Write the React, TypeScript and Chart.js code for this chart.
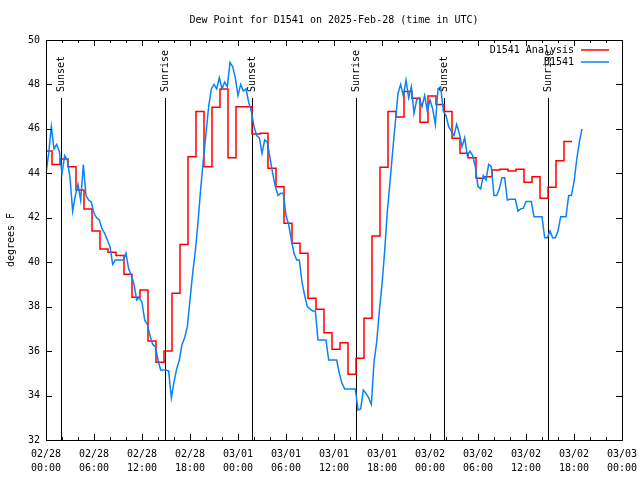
import React, { useEffect, useRef } from "react";
import { Chart, registerables } from "chart.js";

Chart.register(...registerables);

const TITLE = "Dew Point for D1541 on 2025-Feb-28 (time in UTC)";
const Y_TITLE = "degrees F";
const ANALYSIS_LABEL = "D1541 Analysis";
const OBS_LABEL = "D1541";

const X_DATES = ["02/28", "02/28", "02/28", "02/28", "03/01", "03/01", "03/01", "03/01", "03/02", "03/02", "03/02", "03/02", "03/03"];
const X_TIMES = ["00:00", "06:00", "12:00", "18:00", "00:00", "06:00", "12:00", "18:00", "00:00", "06:00", "12:00", "18:00", "00:00"];
const X_MIN_H = 0;
const X_MAX_H = 72;
const X_STEP_H = 6;
const X_MINOR_H = 2;
const Y_MIN = 32;
const Y_MAX = 50;
const Y_STEP = 2;

// hourly analysis values (each holds for one hour starting at ANALYSIS_START_H + i)
const ANALYSIS_START_H = -0.25;
const ANALYSIS_STEP_H = 1;
const analysisValues = [
  45.0, 44.4, 44.65, 44.3, 43.25, 42.4, 41.4, 40.6, 40.45, 40.3,
  39.46, 38.42, 38.75, 36.45, 35.5, 36.0, 38.6, 40.8, 44.75, 46.78,
  44.3, 46.97, 47.8, 44.7, 47.0, 47.0, 45.77, 45.8, 44.23, 43.4,
  41.75, 40.85, 40.4, 38.38, 37.88, 36.83, 36.08, 36.38, 34.96, 35.68,
  37.48, 41.18, 44.27, 46.78, 46.53, 47.68, 47.38, 46.3, 47.48, 47.1,
  46.78, 45.58, 44.9, 44.7, 43.78, 43.85, 44.15, 44.18, 44.1, 44.18,
  43.6, 43.85, 42.88, 43.37, 44.57, 45.43,
];

// observations every 20 minutes from hour 0
const OBS_START_H = 0;
const OBS_STEP_H = 1 / 3;
const obsValues = [
  44.0, 44.9, 46.1, 45.1, 45.3, 45.0, 44.0, 44.8, 44.6, 43.8, 42.3, 43.0,
  43.5, 42.8, 44.4, 43.0, 42.8, 42.7, 42.2, 42.0, 41.9, 41.5, 41.3, 41.0,
  40.7, 39.9, 40.1, 40.1, 40.1, 40.1, 40.4, 39.7, 39.4, 39.0, 38.3, 38.4,
  38.2, 37.4, 37.2, 36.7, 36.3, 36.2, 35.6, 35.15, 35.15, 35.15, 35.1, 33.9,
  34.6, 35.2, 35.6, 36.3, 36.6, 37.1, 38.3, 39.5, 40.5, 41.8, 43.3, 44.6,
  45.8, 47.0, 47.8, 48.0, 47.8, 48.3, 47.8, 48.1, 47.9, 49.0, 48.8, 48.3,
  47.5, 48.0, 47.7, 47.8, 47.2, 46.8, 46.1, 45.7, 45.6, 44.9, 45.5, 45.4,
  44.7, 44.0, 43.4, 43.0, 43.1, 43.1, 42.1, 41.7, 41.0, 40.4, 40.1, 40.1,
  39.1, 38.5, 38.0, 37.9, 37.8, 37.8, 36.5, 36.5, 36.5, 36.5, 35.6, 35.6,
  35.6, 35.6, 35.0, 34.55, 34.3, 34.3, 34.3, 34.3, 34.3, 33.35, 33.4, 34.25,
  34.1, 33.9, 33.6, 35.5, 36.4, 37.8, 39.0, 40.5, 42.3, 43.6, 45.0, 46.3,
  47.6, 48.0, 47.5, 48.2, 47.4, 47.9, 46.7, 47.3, 47.4, 47.0, 47.5, 46.8,
  47.3, 46.9, 46.2, 47.8, 47.9, 46.8, 46.6, 46.1, 45.9, 45.7, 46.2, 45.8,
  45.2, 45.6, 44.8, 45.0, 44.8, 44.3, 43.4, 43.3, 43.9, 43.7, 44.4, 44.3,
  43.0, 43.0, 43.3, 43.8, 43.8, 42.8, 42.83, 42.83, 42.83, 42.3, 42.4, 42.43,
  42.73, 42.73, 42.73, 42.05, 42.05, 42.05, 42.05, 41.1, 41.1, 41.4, 41.1, 41.1,
  41.4, 42.05, 42.05, 42.05, 43.0, 43.0, 43.6, 44.6, 45.4, 46.0,
];

const SUN_LABELS = ["Sunset", "Sunrise", "Sunset", "Sunrise", "Sunset", "Sunrise"];
const SUN_HOURS = [1.85, 14.85, 25.75, 38.75, 49.75, 62.75];

const RED = "#ff0000";
const BLUE = "#0a82f5";
const FONT_FAMILY = '"DejaVu Sans Mono", monospace';
const FONT = `10px ${FONT_FAMILY}`;

const decorPlugin = {
  id: "decor",
  beforeDatasetsDraw(chart: any) {
    const { ctx, chartArea: a, scales } = chart;
    const xs = scales.x;
    ctx.save();
    ctx.strokeStyle = "#000";
    ctx.lineWidth = 1;
    ctx.font = FONT;
    ctx.fillStyle = "#000";
    SUN_HOURS.forEach((h: number, i: number) => {
      const px = Math.round(xs.getPixelForValue(h)) + 0.5;
      ctx.beginPath();
      ctx.moveTo(px, a.top + 58);
      ctx.lineTo(px, a.bottom);
      ctx.stroke();
      ctx.save();
      ctx.translate(px, a.top + 52);
      ctx.rotate(-Math.PI / 2);
      ctx.textAlign = "left";
      ctx.textBaseline = "middle";
      ctx.fillText(SUN_LABELS[i], 0, 0);
      ctx.restore();
    });
    ctx.restore();
  },
  afterDraw(chart: any) {
    const { ctx, chartArea: a, scales } = chart;
    const xs = scales.x;
    const ys = scales.y;
    ctx.save();
    ctx.strokeStyle = "#000";
    ctx.lineWidth = 1;
    // frame
    ctx.strokeRect(a.left + 0.5, a.top + 0.5, a.right - a.left, a.bottom - a.top);
    // x ticks
    ctx.beginPath();
    for (let h = X_MIN_H; h <= X_MAX_H; h += X_MINOR_H) {
      const px = Math.round(xs.getPixelForValue(h)) + 0.5;
      const len = h % X_STEP_H === 0 ? 6 : 3;
      ctx.moveTo(px, a.bottom);
      ctx.lineTo(px, a.bottom - len);
      ctx.moveTo(px, a.top);
      ctx.lineTo(px, a.top + len);
    }
    // y ticks
    for (let v = Y_MIN; v <= Y_MAX; v += Y_STEP) {
      const py = Math.round(ys.getPixelForValue(v)) + 0.5;
      ctx.moveTo(a.left, py);
      ctx.lineTo(a.left + 6, py);
      ctx.moveTo(a.right, py);
      ctx.lineTo(a.right - 6, py);
    }
    ctx.stroke();

    ctx.font = FONT;
    ctx.fillStyle = "#000";
    // title
    ctx.textAlign = "center";
    ctx.textBaseline = "middle";
    ctx.fillText(TITLE, (a.left + a.right) / 2, 20);
    // y title
    ctx.save();
    ctx.translate(11, (a.top + a.bottom) / 2);
    ctx.rotate(-Math.PI / 2);
    ctx.textAlign = "center";
    ctx.textBaseline = "middle";
    ctx.fillText(Y_TITLE, 0, 0);
    ctx.restore();
    // legend
    const items = [
      { label: ANALYSIS_LABEL, color: RED },
      { label: OBS_LABEL, color: BLUE },
    ];
    items.forEach((it, i) => {
      const y = a.top + 10 + i * 12;
      ctx.textAlign = "right";
      ctx.textBaseline = "middle";
      ctx.fillStyle = "#000";
      ctx.fillText(it.label, a.right - 48, y);
      ctx.strokeStyle = it.color;
      ctx.lineWidth = 1.5;
      ctx.beginPath();
      ctx.moveTo(a.right - 41, y);
      ctx.lineTo(a.right - 13, y);
      ctx.stroke();
    });
    ctx.restore();
  },
};

export default function App() {
  const ref = useRef<HTMLCanvasElement | null>(null);

  useEffect(() => {
    if (!ref.current) return;
    const analysisData = analysisValues.map((v, i) => ({ x: ANALYSIS_START_H + i * ANALYSIS_STEP_H, y: v }));
    analysisData.push({
      x: ANALYSIS_START_H + analysisValues.length * ANALYSIS_STEP_H,
      y: analysisValues[analysisValues.length - 1],
    });
    const obsData = obsValues.map((v, i) => ({ x: OBS_START_H + i * OBS_STEP_H, y: v }));

    const chart = new Chart(ref.current, {
      type: "line",
      data: {
        datasets: [
          {
            label: ANALYSIS_LABEL,
            data: analysisData,
            borderColor: RED,
            borderWidth: 1.5,
            pointRadius: 0,
            fill: false,
            stepped: "before",
            order: 1,
          },
          {
            label: OBS_LABEL,
            data: obsData,
            borderColor: BLUE,
            borderWidth: 1.5,
            pointRadius: 0,
            fill: false,
            tension: 0,
            order: 0,
          },
        ],
      },
      options: {
        animation: false,
        responsive: false,
        layout: { padding: { top: 40, right: 18, left: 0, bottom: 0 } },
        plugins: {
          legend: { display: false },
          title: { display: false },
          tooltip: { enabled: false },
        },
        scales: {
          x: {
            type: "linear",
            min: X_MIN_H,
            max: X_MAX_H,
            grid: { display: false, drawTicks: false },
            border: { display: false },
            ticks: {
              stepSize: X_STEP_H,
              autoSkip: false,
              maxRotation: 0,
              padding: 7,
              color: "#000",
              font: { family: FONT_FAMILY, size: 10, lineHeight: 1.4 },
              callback: (v: any) => {
                const i = Math.round((Number(v) - X_MIN_H) / X_STEP_H);
                return [X_DATES[i], X_TIMES[i]];
              },
            },
            afterFit: (s: any) => {
              s.height = 40;
              s.paddingLeft = 0;
              s.paddingRight = 0;
            },
          },
          y: {
            min: Y_MIN,
            max: Y_MAX,
            grid: { display: false, drawTicks: false },
            border: { display: false },
            ticks: {
              stepSize: Y_STEP,
              padding: 6,
              color: "#000",
              font: { family: FONT_FAMILY, size: 10 },
            },
            afterFit: (s: any) => {
              s.width = 46;
              s.paddingTop = 0;
              s.paddingBottom = 0;
            },
          },
        },
      },
      plugins: [decorPlugin],
    });
    return () => chart.destroy();
  }, []);

  return (
    <div style={{ position: "absolute", left: 0, top: 0, width: 640, height: 480, background: "#fff" }}>
      <canvas ref={ref} width={640} height={480} />
    </div>
  );
}
